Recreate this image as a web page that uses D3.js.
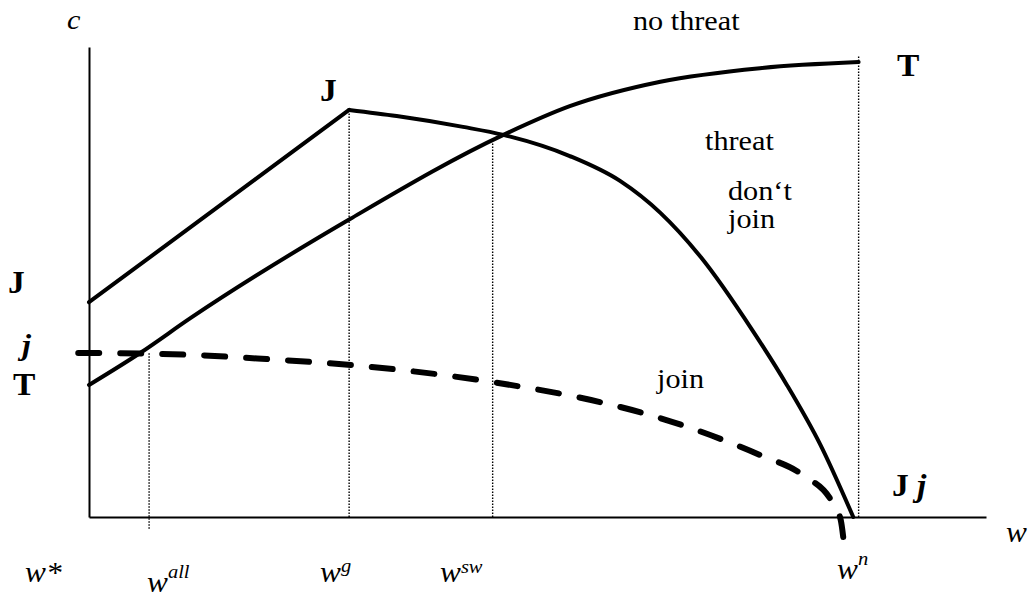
<!DOCTYPE html>
<html>
<head>
    <meta charset="utf-8">
    <style>
        html, body {
            margin: 0;
            padding: 0;
            background: #fff;
        }
    </style>
</head>
<body>
<div id="chart"></div>

<script src="https://cdn.jsdelivr.net/npm/d3@7"></script>
<script>
    "use strict";

    const WIDTH = 1031;
    const HEIGHT = 599;
    const SERIF = "'Liberation Serif', 'Times New Roman', Times, 'DejaVu Serif', serif";

    // curve J: joining payoff (straight up to w^g, then falls to w^n)
    const jRiseW = [0, 29.0];
    const jRiseC = [45.7, 86.6];
    const jFallW = [29.0, 34.3, 41.7, 46.2, 53.6, 59.2, 63.7, 68.2, 74.0, 77.8, 81.5, 85.2];
    const jFallC = [86.6, 85.3, 83.0, 81.3, 76.8, 71.5, 64.7, 55.3, 39.6, 28.1, 15.5, 0];

    // curve T: threat payoff
    const tW = [0, 5.7, 11.3, 29.1, 46.2, 53.6, 63.7, 74.8, 85.8];
    const tC = [28.1, 34.9, 42.3, 63.4, 81.3, 87.4, 92.6, 95.5, 96.8];

    // curve j: dashed
    const smallJW = [-1.2, 8.2, 19.8, 29.4, 45.0, 57.3, 61.8, 70.7, 74.8, 79.6, 82.9, 83.8, 84.1];
    const smallJC = [34.9, 34.7, 33.6, 32.3, 28.7, 24.3, 22.1, 16.4, 13.2, 8.9, 3.0, -0.6, -4.5];

    // dotted guides: position on w, bottom and top on c
    const guideNames = ["all", "g", "sw", "n"];
    const guideW = [6.7, 29.0, 45.0, 85.8];
    const guideBottom = [-2.5, 0, 0, 0];
    const guideTop = [35.1, 86.6, 79.8, 98.3];

    const svg = d3.select("#chart")
        .append("svg")
        .attr("width", WIDTH)
        .attr("height", HEIGHT);

    const x = d3.scaleLinear().domain([0, 100]).range([89, 986]);
    const y = d3.scaleLinear().domain([0, 100]).range([517, 47]);

    // axes without ticks
    svg.append("g")
        .attr("transform", "translate(0," + y(0) + ")")
        .call(d3.axisBottom(x).tickValues([]).tickSizeOuter(0))
        .select(".domain")
        .attr("stroke-width", 2);

    svg.append("g")
        .attr("transform", "translate(" + x(0) + ",0)")
        .call(d3.axisLeft(y).tickValues([]).tickSizeOuter(0))
        .select(".domain")
        .attr("stroke-width", 2);

    // dotted guides
    svg.selectAll("line.guide")
        .data(guideNames)
        .enter()
        .append("line")
        .attr("class", "guide")
        .attr("x1", function (d, i) { return x(guideW[i]); })
        .attr("x2", function (d, i) { return x(guideW[i]); })
        .attr("y1", function (d, i) { return y(guideBottom[i]); })
        .attr("y2", function (d, i) { return y(guideTop[i]); })
        .attr("stroke", "#000")
        .attr("stroke-width", 1.4)
        .attr("stroke-dasharray", "1.5,1.5");

    function pts(ws, cs) {
        return ws.map(function (w, i) { return [w, cs[i]]; });
    }

    const straight = d3.line()
        .x(function (d) { return x(d[0]); })
        .y(function (d) { return y(d[1]); });

    const smooth = d3.line()
        .curve(d3.curveMonotoneX)
        .x(function (d) { return x(d[0]); })
        .y(function (d) { return y(d[1]); });

    function drawCurve(gen, data, width, dash) {
        svg.append("path")
            .datum(data)
            .attr("d", gen)
            .attr("fill", "none")
            .attr("stroke", "#000")
            .attr("stroke-width", width)
            .attr("stroke-linejoin", "round")
            .attr("stroke-linecap", "round")
            .attr("stroke-dasharray", dash);
    }

    drawCurve(straight, pts(jRiseW, jRiseC), 4, null);
    drawCurve(smooth, pts(jFallW, jFallC), 4, null);
    drawCurve(smooth, pts(tW, tC), 4, null);
    drawCurve(smooth, pts(smallJW, smallJC), 6, "21,21");

    // labels
    function label(px, py, parts, size) {
        const t = svg.append("text")
            .attr("transform", "translate(" + px + "," + py + ") scale(1.08,1)")
            .attr("font-family", SERIF)
            .attr("font-size", size)
            .attr("fill", "#000");
        parts.forEach(function (p) {
            t.append("tspan")
                .attr("font-weight", p.bold ? "bold" : null)
                .attr("font-style", p.italic ? "italic" : null)
                .attr("font-size", p.size || null)
                .attr("dy", p.dy || null)
                .text(p.text);
        });
        return t;
    }

    label(67, 29, [{text: "c", italic: true}], 28);
    label(633, 30, [{text: "no threat"}], 28);
    label(705, 150, [{text: "threat"}], 28);
    label(728, 200, [{text: "don\u2018t"}], 28);
    label(728, 228, [{text: "join"}], 28);
    label(657, 388, [{text: "join"}], 28);

    label(320, 101, [{text: "J", bold: true}], 31);
    label(897, 76, [{text: "T", bold: true}], 31);
    label(8, 293, [{text: "J", bold: true}], 31);
    label(22, 355, [{text: "j", bold: true, italic: true}], 30);
    label(13, 395, [{text: "T", bold: true}], 31);
    label(892, 496, [{text: "J ", bold: true}, {text: "j", bold: true, italic: true}], 31);

    label(1006, 542, [{text: "w", italic: true}], 29);
    label(25, 582, [{text: "w*", italic: true}], 29);

    // w with superscripts under the guides
    const supLeft = [147, 320, 440, 837];
    const supBase = [592, 582, 582, 579];
    const supRaise = [-14, -10, -9, -14];
    guideNames.forEach(function (name, i) {
        label(supLeft[i], supBase[i], [
            {text: "w", italic: true},
            {text: name, italic: true, size: 19, dy: supRaise[i]}
        ], 29);
    });
</script>
</body>
</html>
